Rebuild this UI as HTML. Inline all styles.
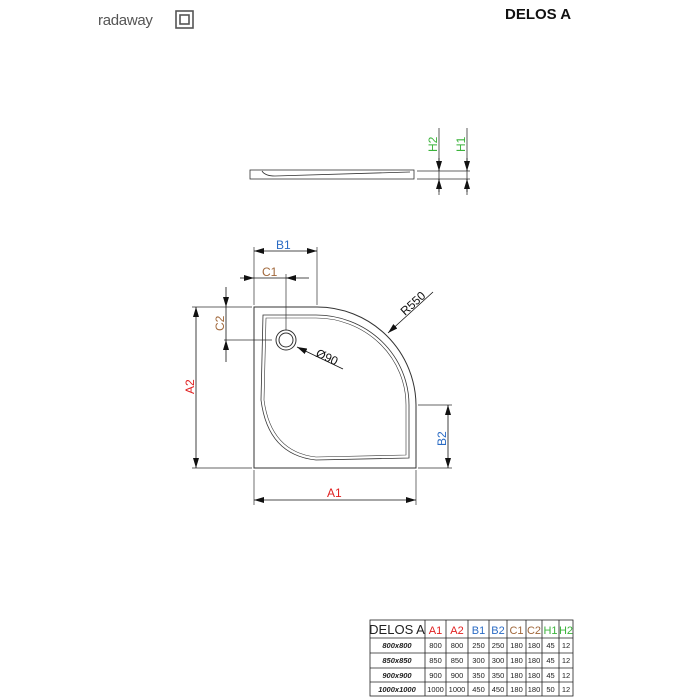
<!DOCTYPE html>
<html><head><meta charset="utf-8"><style>
body{margin:0;background:#fff}
svg{display:block}
text{font-family:"Liberation Sans",sans-serif}
</style></head><body>
<svg width="700" height="700" viewBox="0 0 700 700">
<defs>
<marker id="a" viewBox="0 0 10 6" refX="10" refY="3" markerWidth="10" markerHeight="6" orient="auto-start-reverse" markerUnits="userSpaceOnUse"><path d="M0,0L10,3L0,6z" fill="#111"/></marker>
</defs>
<!-- logo -->
<text x="98" y="25" font-size="15" fill="#555" letter-spacing="-0.3">radaway</text>
<rect x="176" y="11" width="17" height="17" fill="none" stroke="#555" stroke-width="1.6"/>
<rect x="180" y="15" width="9" height="9" fill="none" stroke="#555" stroke-width="1.6"/>
<text x="505" y="19" font-size="15" font-weight="bold" fill="#111">DELOS A</text>

<!-- side view -->
<g stroke="#333" fill="none" stroke-width="0.8">
<rect x="250" y="170" width="164" height="9"/>
<path d="M262,171 Q265,176 275,176 L410,172"/>
<line x1="417" y1="171" x2="470" y2="171"/>
<line x1="417" y1="179" x2="470" y2="179"/>
<line x1="439" y1="128" x2="439" y2="195"/>
<line x1="467" y1="128" x2="467" y2="195"/>
</g>
<g stroke="#111" stroke-width="0.8">
<line x1="439" y1="158" x2="439" y2="171" marker-end="url(#a)"/>
<line x1="439" y1="192" x2="439" y2="179" marker-end="url(#a)"/>
<line x1="467" y1="158" x2="467" y2="171" marker-end="url(#a)"/>
<line x1="467" y1="192" x2="467" y2="179" marker-end="url(#a)"/>
</g>
<text transform="translate(437,152) rotate(-90)" font-size="12" fill="#3bb33b">H2</text>
<text transform="translate(465,152) rotate(-90)" font-size="12" fill="#3bb33b">H1</text>

<!-- plan -->
<g fill="none" stroke="#333" stroke-width="1">
<path d="M254,307 L317,307 A99,99 0 0 1 416,405 L416,468 L254,468 Z"/>
<path d="M263,315 L316,315 A93,90 0 0 1 409,405 L409,458 L316,460 Q268,455 261,400 Z" stroke-width="0.8"/>
<path d="M266,318 L316,318 A90,87 0 0 1 406,405 L406,455 L316,457 Q271,452 264,400 Z" stroke-width="0.6"/>
<circle cx="286" cy="340" r="10"/>
<circle cx="286" cy="340" r="7"/>
</g>
<g stroke="#333" stroke-width="0.7" fill="none">
<line x1="254" y1="247" x2="254" y2="305"/>
<line x1="317" y1="247" x2="317" y2="305"/>
<line x1="286" y1="274" x2="286" y2="330"/>
<line x1="224" y1="340" x2="272" y2="340"/>
<line x1="192" y1="307" x2="252" y2="307"/>
<line x1="192" y1="468" x2="252" y2="468"/>
<line x1="254" y1="470" x2="254" y2="505"/>
<line x1="416" y1="470" x2="416" y2="505"/>
<line x1="418" y1="405" x2="452" y2="405"/>
<line x1="418" y1="468" x2="452" y2="468"/>
</g>
<g stroke="#111" stroke-width="0.8">
<line x1="254" y1="251" x2="317" y2="251" marker-start="url(#a)" marker-end="url(#a)"/>
<line x1="240" y1="278" x2="254" y2="278" marker-end="url(#a)"/>
<line x1="254" y1="278" x2="286" y2="278"/>
<line x1="309" y1="278" x2="286" y2="278" marker-end="url(#a)"/>
<line x1="226" y1="287" x2="226" y2="307" marker-end="url(#a)"/>
<line x1="226" y1="307" x2="226" y2="340"/>
<line x1="226" y1="362" x2="226" y2="340" marker-end="url(#a)"/>
<line x1="196" y1="307" x2="196" y2="468" marker-start="url(#a)" marker-end="url(#a)"/>
<line x1="254" y1="500" x2="416" y2="500" marker-start="url(#a)" marker-end="url(#a)"/>
<line x1="448" y1="405" x2="448" y2="468" marker-start="url(#a)" marker-end="url(#a)"/>
<line x1="433" y1="292" x2="388" y2="333" marker-end="url(#a)"/>
<line x1="343" y1="369" x2="297" y2="347" marker-end="url(#a)"/>
</g>
<text x="276" y="249" font-size="12" fill="#2a6bc4">B1</text>
<text x="262" y="276" font-size="12" fill="#a0673a">C1</text>
<text transform="translate(224,331) rotate(-90)" font-size="12" fill="#a0673a">C2</text>
<text transform="translate(194,394) rotate(-90)" font-size="12" fill="#e02020">A2</text>
<text x="327" y="497" font-size="12" fill="#e02020">A1</text>
<text transform="translate(446,446) rotate(-90)" font-size="12" fill="#2a6bc4">B2</text>
<text transform="translate(405,316) rotate(-42)" font-size="12" fill="#111">R550</text>
<text transform="translate(315,356) rotate(25)" font-size="12" fill="#111">Ø90</text>

<!-- table -->
<g stroke="#222" stroke-width="0.8" fill="none">
<rect x="370" y="620" width="203" height="76"/>
<line x1="370" y1="638" x2="573" y2="638"/>
<line x1="370" y1="653" x2="573" y2="653"/>
<line x1="370" y1="668" x2="573" y2="668"/>
<line x1="370" y1="682" x2="573" y2="682"/>
<line x1="425" y1="620" x2="425" y2="696"/>
<line x1="446" y1="620" x2="446" y2="696"/>
<line x1="468" y1="620" x2="468" y2="696"/>
<line x1="489" y1="620" x2="489" y2="696"/>
<line x1="507" y1="620" x2="507" y2="696"/>
<line x1="526" y1="620" x2="526" y2="696"/>
<line x1="542" y1="620" x2="542" y2="696"/>
<line x1="559" y1="620" x2="559" y2="696"/>
</g>
<g font-size="11" text-anchor="middle">
<text x="397" y="634" font-size="13" fill="#222">DELOS A</text>
<text x="435.5" y="634" fill="#e02020">A1</text>
<text x="457" y="634" fill="#e02020">A2</text>
<text x="478.5" y="634" fill="#2a6bc4">B1</text>
<text x="498" y="634" fill="#2a6bc4">B2</text>
<text x="516.5" y="634" fill="#a0673a">C1</text>
<text x="534" y="634" fill="#a0673a">C2</text>
<text x="550.5" y="634" fill="#3bb33b">H1</text>
<text x="566" y="634" fill="#3bb33b">H2</text>
</g>
<g font-size="7.5" text-anchor="middle" fill="#222">
<g font-weight="bold" font-style="italic">
<text x="397" y="648">800x800</text>
<text x="397" y="663">850x850</text>
<text x="397" y="678">900x900</text>
<text x="397" y="692">1000x1000</text>
</g>
<text y="648"><tspan x="435.5">800</tspan><tspan x="457">800</tspan><tspan x="478.5">250</tspan><tspan x="498">250</tspan><tspan x="516.5">180</tspan><tspan x="534">180</tspan><tspan x="550.5">45</tspan><tspan x="566">12</tspan></text>
<text y="663"><tspan x="435.5">850</tspan><tspan x="457">850</tspan><tspan x="478.5">300</tspan><tspan x="498">300</tspan><tspan x="516.5">180</tspan><tspan x="534">180</tspan><tspan x="550.5">45</tspan><tspan x="566">12</tspan></text>
<text y="678"><tspan x="435.5">900</tspan><tspan x="457">900</tspan><tspan x="478.5">350</tspan><tspan x="498">350</tspan><tspan x="516.5">180</tspan><tspan x="534">180</tspan><tspan x="550.5">45</tspan><tspan x="566">12</tspan></text>
<text y="692"><tspan x="435.5">1000</tspan><tspan x="457">1000</tspan><tspan x="478.5">450</tspan><tspan x="498">450</tspan><tspan x="516.5">180</tspan><tspan x="534">180</tspan><tspan x="550.5">50</tspan><tspan x="566">12</tspan></text>
</g>
</svg>
</body></html>
